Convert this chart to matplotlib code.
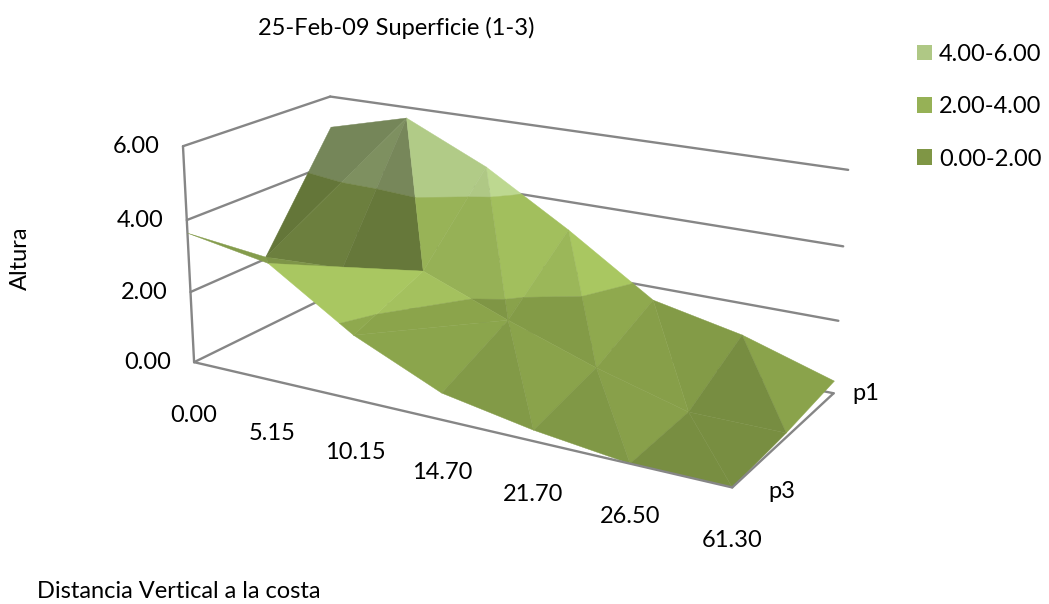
import numpy as np
import matplotlib
matplotlib.use("Agg")
import matplotlib.pyplot as plt
from matplotlib.patches import Patch
from mpl_toolkits.mplot3d import proj3d
from mpl_toolkits.mplot3d.art3d import Poly3DCollection

plt.rcParams['font.family'] = 'Lato'

distancia = ['0.00', '5.15', '10.15', '14.70', '21.70', '26.50', '61.30']
altura_ticks = [0, 2, 4, 6]
altura_labels = ['0.00', '2.00', '4.00', '6.00']
perfiles = ['p3', 'p2', 'p1']
z_p3 = [3.64, 3.24, 1.76, 0.72, 0.29, 0.00, 0.00]
z_p2 = [2.05, 2.16, 2.52, 1.61, 0.79, 0.12, 0.12]
z_p1 = [5.09, 5.69, 4.62, 3.20, 1.63, 1.12, 0.34]
bandas = ['0.00-2.00', '2.00-4.00', '4.00-6.00']
colores = ['#7f9645', '#96b156', '#afc885']
limites = [0, 2, 4, 6]

GREY = '#868686'
W, H = 1049, 604

Z = np.array([z_p3, z_p2, z_p1])

fig = plt.figure(figsize=(W / 100, H / 100), dpi=100)
ax = fig.add_subplot(projection='3d', computed_zorder=False)
ax.set_xlim(0, 6)
ax.set_ylim(0, 2)
ax.set_zlim(0, 6)
ax.view_init(elev=18.349, azim=-60.397, roll=-0.319)
ax.set_proj_type('persp', focal_length=0.508)
box = (5.265, 2.231, 2.015)
ax.set_box_aspect(box, zoom=1)
ax.set_axis_off()

# place the axes so the view origin lands where the chart has it
scale, ox, oy = 3652.01, 508.37, 269.77
ax.set_position([0, 0, 1, 1])
ax.apply_aspect()
p = ax.transData.transform([[0, 0], [0.01, 0.01]])
side = H * scale / ((p[1, 0] - p[0, 0]) / 0.01)
l = (ox - side * 0.5) / W
b = (H - oy - side * 0.5) / H
ax.set_position([l, b, side / W, side / H])
ax.apply_aspect()
p = ax.transData.transform([[0, 0]])[0]
l += (ox - p[0]) / W
b += (H - oy - p[1]) / H
ax.set_position([l, b, side / W, side / H])
ax.apply_aspect()


def line(x, y, z, zo=1):
    ax.plot(x, y, z, color=GREY, lw=1.7, zorder=zo, clip_on=False, solid_capstyle='round')


# walls
for t in altura_ticks:
    line([0, 0], [0, 2], [t, t])
    line([0, 6], [2, 2], [t, t])
line([0, 0], [0, 0], [0, 6])
line([0, 6], [0, 0], [0, 0], zo=3)
line([6, 6], [0, 2], [0, 0], zo=3)


def clip_band(tri, lo, hi):
    # cut a triangle to the part between two heights
    poly = list(tri)
    for lim, sign in ((lo, 1), (hi, -1)):
        new = []
        for k in range(len(poly)):
            a = poly[k]
            c = poly[(k + 1) % len(poly)]
            da = sign * (a[2] - lim)
            dc = sign * (c[2] - lim)
            if da >= 0:
                new.append(a)
            if da * dc < 0:
                new.append(a + (c - a) * da / (da - dc))
        poly = new
        if len(poly) < 3:
            return []
    return poly


def shade(tri):
    s = np.array(box) / np.array([6, 2, 6])
    n = np.cross((tri[1] - tri[0]) * s, (tri[2] - tri[0]) * s)
    n = n / np.linalg.norm(n)
    if n[2] < 0:
        n = -n
    d = n @ np.array([0.55, -0.10, 0.83])
    return float(np.clip(0.72 + 1.1 * (d - 0.626), 0.5, 1.2))


# cells whose split runs the other way round
otra_diagonal = [(0, 1), (1, 0), (2, 0)]

polys = []
cols = []
for j in range(Z.shape[0] - 1):
    for i in range(Z.shape[1] - 1):
        a = np.array([i, j, Z[j, i]], float)
        c = np.array([i + 1, j, Z[j, i + 1]], float)
        e = np.array([i + 1, j + 1, Z[j + 1, i + 1]], float)
        d = np.array([i, j + 1, Z[j + 1, i]], float)
        if (i, j) in otra_diagonal:
            tris = [(a, c, e), (a, e, d)]
        else:
            tris = [(a, c, d), (c, e, d)]
        for tri in tris:
            f = shade(tri)
            for k in range(3):
                part = clip_band(tri, limites[k], limites[k + 1])
                if part:
                    rgb = np.array(matplotlib.colors.to_rgb(colores[k])) * f
                    polys.append(np.array(part))
                    cols.append(tuple(np.clip(rgb, 0, 1)))

surf = Poly3DCollection(polys, facecolors=cols, edgecolors=cols, linewidths=0.3, zsort='average', zorder=2)
surf.set_clip_on(False)
ax.add_collection3d(surf, autolim=False)

M = ax.get_proj()
FS = 17


def label(txt, x, y, z, dx, dy, **kw):
    u, v, _ = proj3d.proj_transform(x, y, z, M)
    ax.annotate(txt, xy=(u, v), xycoords='data', xytext=(dx, dy), textcoords='offset pixels',
                annotation_clip=False, fontsize=FS, color='black', **kw)


for i, t in enumerate(distancia):
    label(t, i, 0, 0, 0, -53, ha='center', va='center')
for t, s in zip(altura_ticks, altura_labels):
    label(s, 0, 0, t, -23, 0, ha='right', va='center')
label(perfiles[0], 6, 0, 0, 36, -4, ha='left', va='center')
label(perfiles[2], 6, 2, 0, 19, 0, ha='left', va='center')

fig.text(396 / W, 1 - 28 / H, '25-Feb-09 Superficie (1-3)', ha='center', va='center', fontsize=FS)
fig.text(20 / W, 1 - 258 / H, 'Altura', rotation=90, ha='center', va='center', fontsize=FS)
fig.text(37 / W, 1 - 591 / H, 'Distancia Vertical a la costa', ha='left', va='center', fontsize=FS)

handles = [Patch(facecolor=colores[k], edgecolor='none', label=bandas[k]) for k in (2, 1, 0)]
fig.legend(handles=handles, loc='upper left', bbox_to_anchor=(912 / W, 1 - 39 / H), frameon=False,
           fontsize=FS, handlelength=0.635, handleheight=0.635, handletextpad=0.3,
           labelspacing=1.33, borderpad=0.2, borderaxespad=0)

fig.savefig('out.png', dpi=100)
